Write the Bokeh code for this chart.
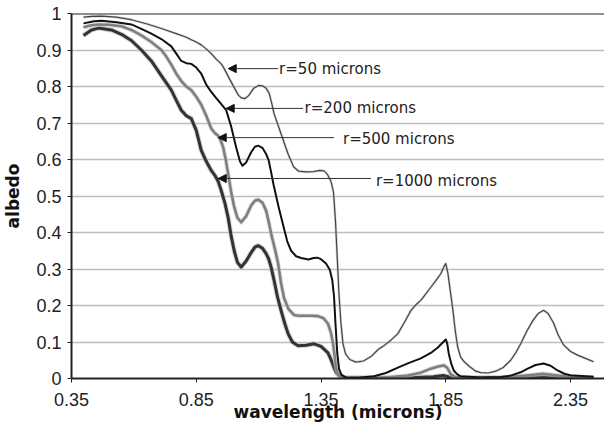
from bokeh.plotting import figure
from bokeh.models import (Range1d, FixedTicker, CustomJSTickFormatter, Span, Label,
                          Arrow, NormalHead)
from bokeh.embed import file_html
from bokeh.resources import INLINE

# ---- data ----
wl_50 = [0.398, 0.43, 0.47, 0.53, 0.59, 0.65, 0.71, 0.77, 0.81, 0.83, 0.85, 0.87, 0.89,
         0.91, 0.93, 0.95, 0.962, 0.98, 1.002, 1.018, 1.03, 1.045, 1.06, 1.08, 1.10, 1.115,
         1.13, 1.142, 1.152, 1.162, 1.19, 1.218, 1.24, 1.26, 1.29, 1.32, 1.345, 1.362,
         1.375, 1.39, 1.40, 1.408, 1.415, 1.422, 1.43, 1.438, 1.448, 1.465, 1.49, 1.52,
         1.55, 1.58, 1.602, 1.63, 1.658, 1.685, 1.71, 1.73, 1.75, 1.77, 1.79, 1.81, 1.83,
         1.845, 1.85, 1.858, 1.868, 1.878, 1.888, 1.898, 1.91, 1.925, 1.945, 1.97, 1.99,
         2.02, 2.05, 2.08, 2.11, 2.13, 2.15, 2.175, 2.20, 2.22, 2.242, 2.26, 2.282, 2.30,
         2.322, 2.35, 2.378, 2.41, 2.442]
alb_50 = [0.99, 0.992, 0.993, 0.99, 0.983, 0.972, 0.959, 0.945, 0.935, 0.928, 0.922, 0.914,
          0.903, 0.89, 0.875, 0.862, 0.849, 0.825, 0.797, 0.777, 0.769, 0.767, 0.775, 0.795,
          0.803, 0.802, 0.795, 0.782, 0.755, 0.725, 0.67, 0.615, 0.58, 0.568, 0.566, 0.567,
          0.57, 0.569, 0.56, 0.54, 0.51, 0.43, 0.33, 0.23, 0.15, 0.095, 0.068, 0.052, 0.045,
          0.048, 0.06, 0.08, 0.09, 0.105, 0.123, 0.155, 0.186, 0.202, 0.214, 0.232, 0.25,
          0.268, 0.287, 0.31, 0.315, 0.29, 0.24, 0.19, 0.13, 0.085, 0.058, 0.045, 0.033,
          0.02, 0.016, 0.015, 0.02, 0.03, 0.05, 0.07, 0.095, 0.13, 0.16, 0.178, 0.187, 0.178,
          0.152, 0.12, 0.092, 0.074, 0.064, 0.055, 0.046]

wl_200 = [0.398, 0.44, 0.47, 0.53, 0.59, 0.63, 0.67, 0.71, 0.75, 0.77, 0.79, 0.81, 0.83,
          0.85, 0.87, 0.89, 0.91, 0.93, 0.95, 0.97, 0.99, 1.01, 1.025, 1.035, 1.05, 1.07,
          1.085, 1.098, 1.115, 1.13, 1.14, 1.15, 1.16, 1.18, 1.20, 1.215, 1.23, 1.25, 1.27,
          1.30, 1.32, 1.335, 1.35, 1.37, 1.385, 1.395, 1.402, 1.408, 1.415, 1.422, 1.432,
          1.45, 1.5, 1.562, 1.61, 1.658, 1.70, 1.75, 1.79, 1.818, 1.84, 1.85, 1.856, 1.862,
          1.872, 1.882, 1.895, 1.91, 1.99, 2.07, 2.11, 2.15, 2.178, 2.21, 2.242, 2.27, 2.298,
          2.325, 2.35, 2.442]
alb_200 = [0.973, 0.979, 0.98, 0.976, 0.97, 0.958, 0.945, 0.93, 0.91, 0.89, 0.87, 0.864,
           0.862, 0.852, 0.835, 0.805, 0.785, 0.768, 0.752, 0.735, 0.69, 0.633, 0.595, 0.583,
           0.592, 0.62, 0.635, 0.638, 0.632, 0.615, 0.598, 0.565, 0.53, 0.47, 0.415, 0.375,
           0.35, 0.335, 0.33, 0.326, 0.33, 0.331, 0.327, 0.315, 0.298, 0.27, 0.225, 0.15,
           0.07, 0.027, 0.01, 0.003, 0.002, 0.006, 0.015, 0.03, 0.042, 0.055, 0.07, 0.085,
           0.1, 0.107, 0.095, 0.068, 0.04, 0.022, 0.012, 0.006, 0.003, 0.004, 0.008, 0.017,
           0.027, 0.037, 0.041, 0.035, 0.022, 0.013, 0.009, 0.005]

wl_500 = [0.398, 0.43, 0.458, 0.50, 0.55, 0.59, 0.63, 0.67, 0.71, 0.73, 0.75, 0.77, 0.79,
          0.81, 0.83, 0.85, 0.87, 0.89, 0.91, 0.925, 0.938, 0.948, 0.958, 0.968, 0.978, 0.99,
          1.002, 1.015, 1.03, 1.05, 1.07, 1.085, 1.098, 1.115, 1.13, 1.14, 1.15, 1.165,
          1.178, 1.19, 1.202, 1.22, 1.242, 1.26, 1.282, 1.31, 1.338, 1.36, 1.378, 1.39,
          1.398, 1.405, 1.41, 1.418, 1.43, 1.45, 1.6, 1.698, 1.75, 1.79, 1.82, 1.842, 1.855,
          1.87, 1.885, 1.9, 2.1, 2.17, 2.24, 2.3, 2.35, 2.442]
alb_500 = [0.962, 0.968, 0.97, 0.969, 0.965, 0.955, 0.94, 0.922, 0.90, 0.882, 0.86, 0.835,
           0.815, 0.80, 0.79, 0.772, 0.75, 0.72, 0.685, 0.672, 0.665, 0.652, 0.633, 0.60,
           0.56, 0.51, 0.47, 0.44, 0.428, 0.445, 0.474, 0.487, 0.49, 0.482, 0.46, 0.43,
           0.397, 0.355, 0.315, 0.26, 0.22, 0.19, 0.174, 0.172, 0.172, 0.172, 0.171, 0.165,
           0.15, 0.125, 0.096, 0.06, 0.03, 0.012, 0.004, 0.002, 0.002, 0.008, 0.016, 0.027,
           0.033, 0.036, 0.03, 0.012, 0.005, 0.003, 0.003, 0.008, 0.013, 0.008, 0.004, 0.003]

wl_1000 = [0.398, 0.43, 0.458, 0.51, 0.55, 0.59, 0.63, 0.67, 0.71, 0.75, 0.77, 0.79, 0.81,
           0.83, 0.85, 0.87, 0.89, 0.91, 0.925, 0.938, 0.95, 0.965, 0.978, 0.99, 1.002, 1.015,
           1.03, 1.05, 1.07, 1.085, 1.098, 1.115, 1.13, 1.14, 1.15, 1.162, 1.175, 1.19, 1.205,
           1.218, 1.235, 1.258, 1.29, 1.322, 1.35, 1.378, 1.39, 1.402, 1.412, 1.422, 1.44,
           1.45, 1.7, 1.8, 1.84, 1.86, 1.88, 2.15, 2.24, 2.33, 2.442]
alb_1000 = [0.94, 0.955, 0.96, 0.955, 0.943, 0.926, 0.90, 0.87, 0.83, 0.79, 0.762, 0.735,
            0.72, 0.712, 0.68, 0.625, 0.595, 0.57, 0.556, 0.54, 0.515, 0.48, 0.44, 0.39,
            0.35, 0.318, 0.305, 0.322, 0.345, 0.36, 0.364, 0.357, 0.342, 0.328, 0.305, 0.268,
            0.225, 0.186, 0.15, 0.123, 0.1, 0.09, 0.091, 0.095, 0.088, 0.07, 0.052, 0.03,
            0.015, 0.008, 0.003, 0.002, 0.002, 0.005, 0.008, 0.005, 0.002, 0.002, 0.005,
            0.002, 0.002]

x_ticks = [0.35, 0.85, 1.35, 1.85, 2.35]
y_ticks = [0, 0.1, 0.2, 0.3, 0.4, 0.5, 0.6, 0.7, 0.8, 0.9, 1.0]

labels = ["r=50 microns", "r=200 microns", "r=500 microns", "r=1000 microns"]

p = figure(width=604, height=429, output_backend="svg", toolbar_location=None,
           x_range=Range1d(0.35, 2.486), y_range=Range1d(0, 1.0),
           min_border_left=70, min_border_right=0, min_border_top=13, min_border_bottom=51)
p.outline_line_color = None
p.background_fill_color = "white"
p.border_fill_color = "white"

fmt = CustomJSTickFormatter(code="return String(Math.round(tick*100)/100);")
for ax, ticks in ((p.xaxis[0], x_ticks), (p.yaxis[0], y_ticks)):
    ax.ticker = FixedTicker(ticks=ticks)
    ax.formatter = fmt
    ax.major_label_text_font = "Liberation Sans"
    ax.major_label_text_font_size = "18px"
    ax.major_label_text_color = "#222222"
    ax.axis_line_color = "#222222"
    ax.axis_line_width = 2
    ax.major_tick_line_color = "#222222"
    ax.major_tick_out = 4
    ax.major_tick_in = 0
    ax.minor_tick_out = 0
    ax.minor_tick_in = 0
    ax.axis_label_text_font = "DejaVu Sans"
    ax.axis_label_text_font_style = "bold"
    ax.axis_label_text_font_size = "17px"
    ax.axis_label_text_color = "#111111"

p.xaxis.axis_label = "wavelength (microns)"
p.yaxis.axis_label = "albedo"
p.xaxis.major_label_standoff = 10
p.xaxis.axis_label_standoff = -7
p.yaxis.major_label_standoff = 6
p.yaxis.axis_label_standoff = 10

p.xgrid.grid_line_color = None
p.ygrid.ticker = FixedTicker(ticks=y_ticks)
p.ygrid.grid_line_color = "#bdbdbd"
p.ygrid.grid_line_width = 1.5

p.add_layout(Span(location=1.0, dimension="width", line_color="#222222", line_width=2))

p.line(wl_1000, alb_1000, line_color="#bbbbbb", line_width=5, line_alpha=0.6,
       line_join="round")
p.line(wl_1000, alb_1000, line_color="#333333", line_width=3, line_join="round")
p.line(wl_500, alb_500, line_color="#cccccc", line_width=4.5, line_alpha=0.6,
       line_join="round")
p.line(wl_500, alb_500, line_color="#7f7f7f", line_width=2.6, line_join="round")
p.line(wl_200, alb_200, line_color="#111111", line_width=2, line_join="round")
p.line(wl_50, alb_50, line_color="#bbbbbb", line_width=2.5, line_alpha=0.6,
       line_join="round")
p.line(wl_50, alb_50, line_color="#444444", line_width=1.2, line_join="round")

# annotations: (arrow start x, arrow tip x, y, text x, text y)
ann = [(1.178, 0.978, 0.849, 1.182, 0.849),
       (1.278, 0.970, 0.740, 1.284, 0.740),
       (1.402, 0.938, 0.660, 1.438, 0.655),
       (1.550, 0.938, 0.548, 1.570, 0.542)]
for (xs, xe, ya, xt, yt), txt in zip(ann, labels):
    p.add_layout(Arrow(end=NormalHead(size=8, fill_color="#111111", line_color="#111111"),
                       x_start=xs, y_start=ya, x_end=xe, y_end=ya,
                       line_color="#333333", line_width=1))
    p.add_layout(Label(x=xt, y=yt, text=txt, text_font="DejaVu Sans",
                       text_font_size="15px", text_baseline="middle",
                       text_color="#222222"))

open("out.html", "w").write(file_html(p, INLINE))
